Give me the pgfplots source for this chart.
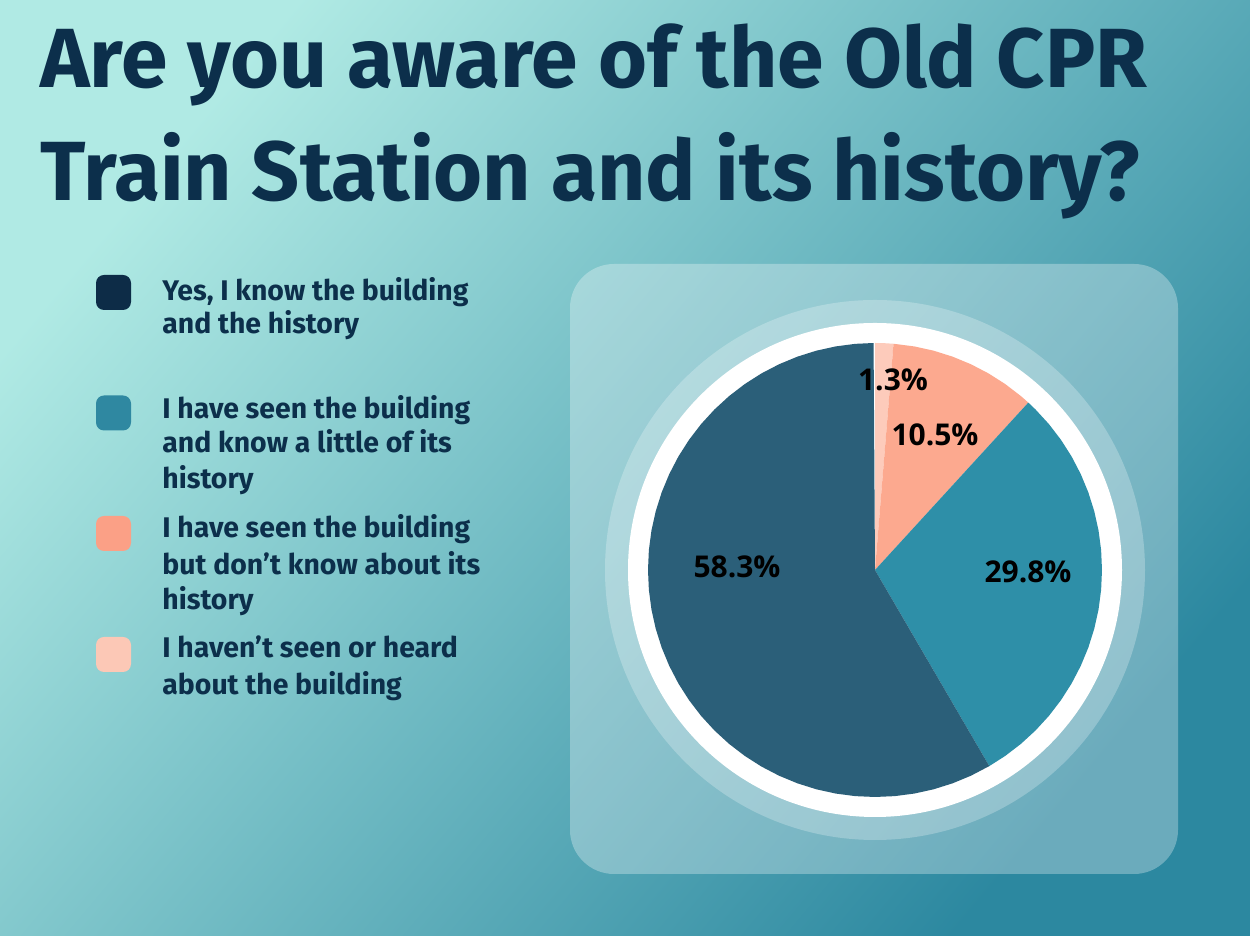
\documentclass[border=0pt]{standalone}
\usepackage{fontspec}
\setmainfont{Fira Sans}
\newfontfamily\labfont{Open Sans}
\usepackage{pgfplots}
\pgfplotsset{compat=1.18}

\definecolor{bgA}{HTML}{B0EAE4}
\definecolor{bgB}{HTML}{7ACACF}
\definecolor{bgC}{HTML}{2C88A0}
\definecolor{ink}{HTML}{0C2F4B}
\definecolor{sqA}{HTML}{0D2C47}
\definecolor{sqB}{HTML}{2F88A1}
\definecolor{sqC}{HTML}{FBA086}
\definecolor{sqD}{HTML}{FCC8B6}
\definecolor{pieA}{HTML}{2B5F79}
\definecolor{pieB}{HTML}{2E8FA8}
\definecolor{pieC}{HTML}{FCA98F}
\definecolor{pieD}{HTML}{FDCBBB}

\begin{document}
\begin{tikzpicture}
\begin{axis}[scale only axis,width=625pt,height=468pt,
  xmin=-875,xmax=375,ymin=-366,ymax=570,hide axis,clip=false]
% background and panel
\shade[top color=bgA,middle color=bgB,bottom color=bgC,shading angle=50]
  (axis cs:-875,-366) rectangle (axis cs:375,570);
\fill[white,opacity=0.3,rounded corners=22pt] (axis cs:-305,-304) rectangle (axis cs:303,306);
\fill[white,opacity=0.25] (axis cs:0,0) circle[radius=135pt];
\fill[white] (axis cs:0,0) circle[radius=123.5pt];
% slices clockwise from 12 o'clock: 1.3, 10.5, 29.8, 58.3 percent (angle, radius)
\addplot[draw=none,fill=pieD,data cs=polar] coordinates {(0,0) (90,227) (87.66,227) (85.32,227)} --cycle;
\addplot[draw=none,fill=pieC,data cs=polar] coordinates {(0,0) (85.32,227) (80,227) (75,227) (70,227) (65,227)
  (60,227) (55,227) (50,227) (47.52,227)} --cycle;
\addplot[draw=none,fill=pieB,data cs=polar] coordinates {(0,0) (47.52,227) (45,227) (40,227) (35,227) (30,227)
  (25,227) (20,227) (15,227) (10,227) (5,227) (0,227) (-5,227) (-10,227) (-15,227) (-20,227) (-25,227)
  (-30,227) (-35,227) (-40,227) (-45,227) (-50,227) (-55,227) (-59.76,227)} --cycle;
\addplot[draw=none,fill=pieA,data cs=polar] coordinates {(0,0) (-59.76,227) (-65,227) (-70,227) (-75,227)
  (-80,227) (-85,227) (-90,227) (-95,227) (-100,227) (-105,227) (-110,227) (-115,227) (-120,227)
  (-125,227) (-130,227) (-135,227) (-140,227) (-145,227) (-150,227) (-155,227) (-160,227) (-165,227)
  (-170,227) (-175,227) (-180,227) (-185,227) (-190,227) (-195,227) (-200,227) (-205,227) (-210,227)
  (-215,227) (-220,227) (-225,227) (-230,227) (-235,227) (-240,227) (-245,227) (-250,227) (-255,227)
  (-260,227) (-265,227) (-269.64,227)} --cycle;
% slice labels
\begin{scope}[every node/.style={font=\labfont\bfseries\fontsize{15}{17}\selectfont,text=black}]
\node at (axis cs:18,190) {1.3\%};
\node at (axis cs:60,135) {10.5\%};
\node at (axis cs:153,-2) {29.8\%};
\node at (axis cs:-138,3) {58.3\%};
\end{scope}
% title
\begin{scope}[every node/.style={anchor=base west,inner sep=0pt,text=ink,font=\bfseries\fontsize{42}{50}\selectfont}]
\node at (axis cs:-835,482) {Are you aware of the Old CPR};
\node at (axis cs:-835,369) {Train Station and its history?};
\end{scope}
% legend
\begin{scope}[every node/.style={anchor=base west,inner sep=0pt,text=ink,font=\bfseries\fontsize{14.2}{17}\selectfont}]
\node at (axis cs:-713,269) {Yes, I know the building};
\node at (axis cs:-713,236) {and the history};
\node at (axis cs:-713,151) {I have seen the building};
\node at (axis cs:-713,117) {and know a little of its};
\node at (axis cs:-713,81) {history};
\node at (axis cs:-713,32) {I have seen the building};
\node at (axis cs:-713,-5) {but don’t know about its};
\node at (axis cs:-713,-40) {history};
\node at (axis cs:-713,-88) {I haven’t seen or heard};
\node at (axis cs:-713,-125) {about the building};
\end{scope}
\fill[sqA,rounded corners=4pt] (axis cs:-779,260) rectangle (axis cs:-744,295);
\fill[sqB,rounded corners=4pt] (axis cs:-779,139.5) rectangle (axis cs:-744,174.5);
\fill[sqC,rounded corners=4pt] (axis cs:-779,19) rectangle (axis cs:-744,54);
\fill[sqD,rounded corners=4pt] (axis cs:-779,-102) rectangle (axis cs:-744,-67);
\end{axis}
\end{tikzpicture}
\end{document}
